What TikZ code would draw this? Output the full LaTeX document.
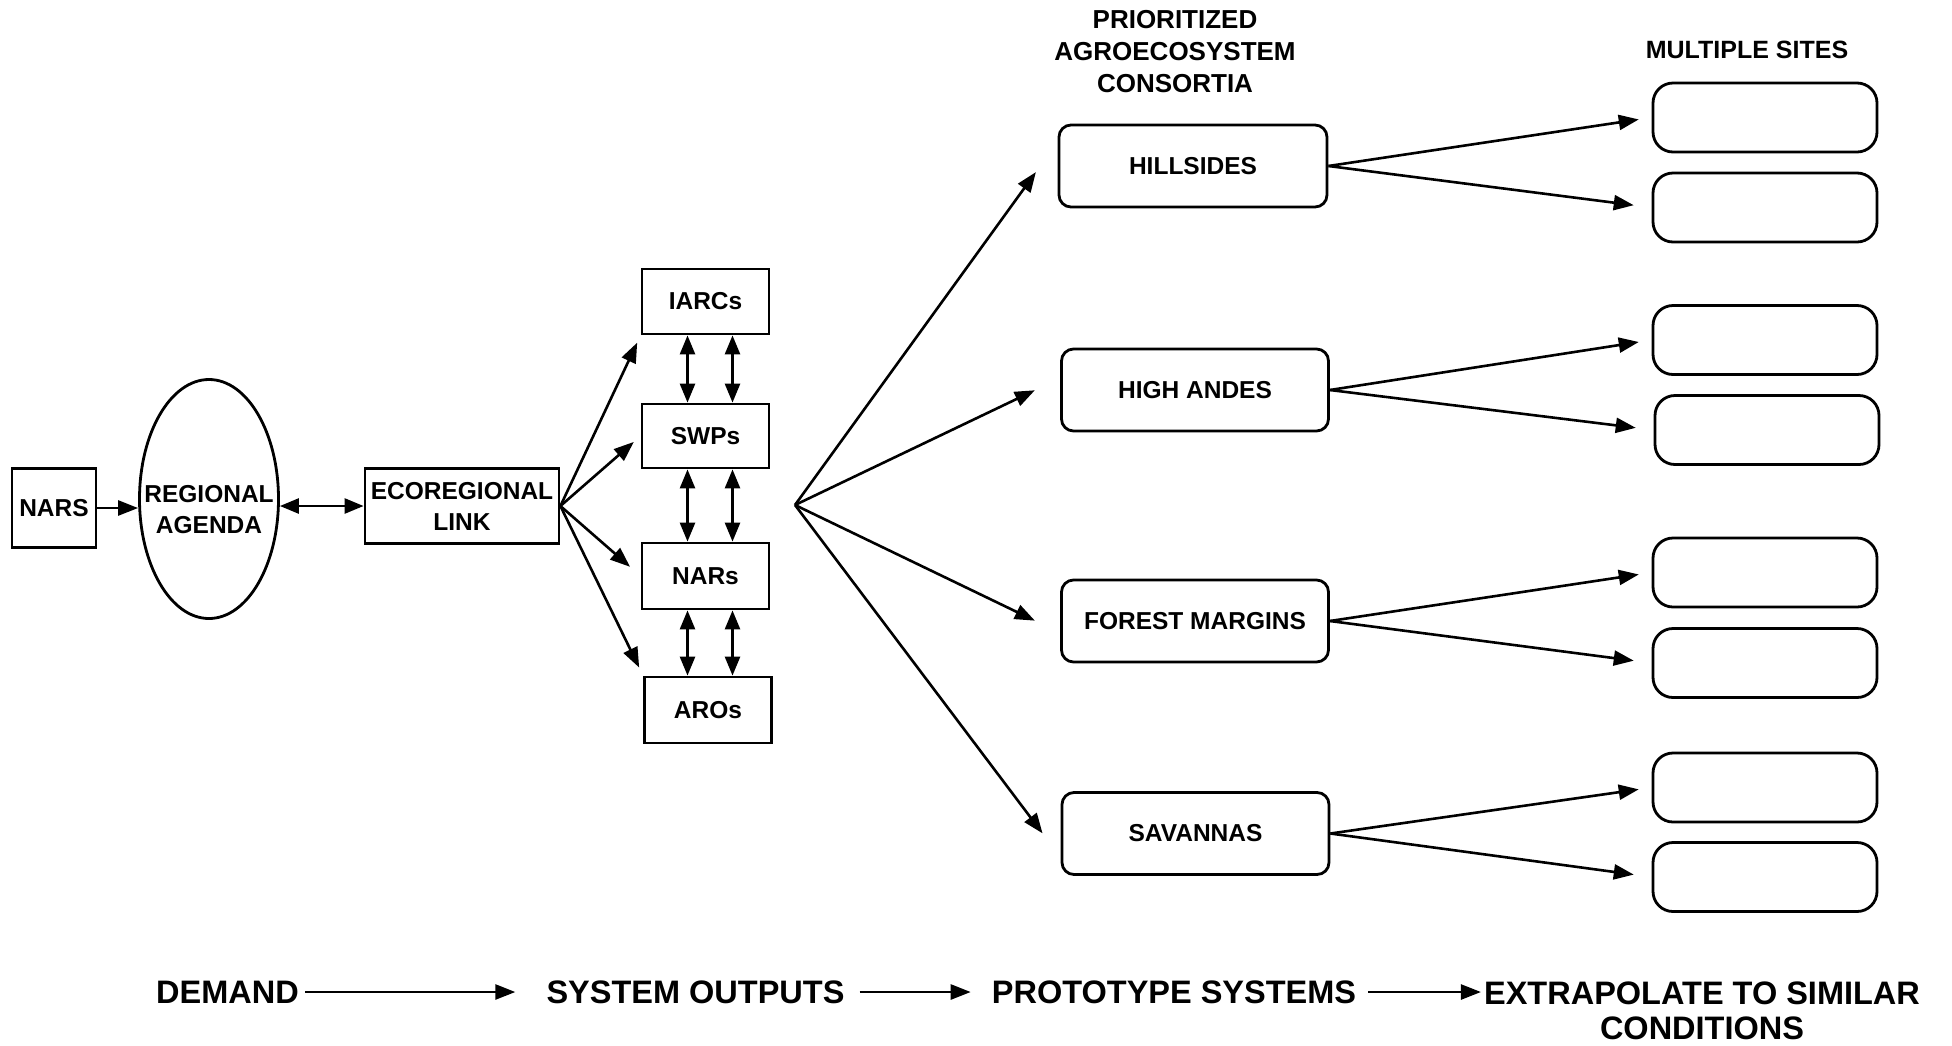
\documentclass[tikz,border=0pt]{standalone}
\usepackage{fontspec}
\setmainfont{Liberation Sans}
\usetikzlibrary{arrows.meta,shapes.geometric,calc}
\begin{document}
\begin{tikzpicture}[x=1pt,y=-1pt,
  lbl/.style={font=\bfseries\fontsize{24.5}{31}\selectfont, align=center},
  sqbox/.style={draw, line width=2.8pt, inner sep=0pt, lbl},
  rbox/.style={draw, line width=2.8pt, rounded corners=12pt, inner sep=0pt,
    minimum width=267pt, minimum height=82pt, lbl},
  site/.style={draw, line width=2.8pt, rounded corners=20pt,
    minimum width=224pt, minimum height=69pt, inner sep=0pt},
  arr/.style={line width=2.6pt, -{Triangle[length=20pt,width=15pt]}},
  darr/.style={line width=2.6pt, {Triangle[length=19pt,width=15pt]}-{Triangle[length=19pt,width=15pt]}},
  big/.style={font=\bfseries\fontsize{32.5}{35}\selectfont, align=center, inner sep=0pt},
  head/.style={font=\bfseries\fontsize{26}{32}\selectfont, align=center, inner sep=0pt}]
\useasboundingbox (0,0) rectangle (1952,1045);

% left part
\node[sqbox, minimum width=84pt, minimum height=79pt] (nars) at (54,508) {NARS};
\node[ellipse, draw, line width=2.8pt, minimum width=139pt, minimum height=239pt, inner sep=0pt,
  label={[lbl, yshift=-11pt]center:REGIONAL\\AGENDA}] (ell) at (209,499) {};
\node[sqbox, minimum width=194pt, minimum height=75pt] (eco) at (462,506) {ECOREGIONAL\\LINK};

\draw[arr] (nars) -- (nars -| ell.west);
\draw[darr] (eco.west -| ell.east) -- (eco.west);

% institutions
\node[sqbox, minimum width=127pt, minimum height=65pt] (iarcs) at (705.5,301.5) {IARCs};
\node[sqbox, minimum width=127pt, minimum height=64pt] (swps) at (705.5,436) {SWPs};
\node[sqbox, minimum width=127pt, minimum height=66pt] (nars2) at (705.5,576) {NARs};
\node[sqbox, minimum width=127pt, minimum height=66pt] (aros) at (708,710) {AROs};

\draw[arr, shorten >=8pt] (eco.east) -- (iarcs.south west);
\draw[arr, shorten >=9pt] (eco.east) -- (swps.west);
\draw[arr, shorten >=14pt] (eco.east) -- (nars2.west);
\draw[arr, shorten >=9pt] (eco.east) -- (aros.north west);

\foreach \a/\b in {iarcs/swps, swps/nars2, nars2/aros}{
  \draw[darr] ([xshift=-18pt]\a.south) -- ([xshift=-18pt]\a.south |- \b.north);
  \draw[darr] ([xshift=27pt]\a.south) -- ([xshift=27pt]\a.south |- \b.north);
}

% consortia
\node[head] (hdr) at (1175,52) {PRIORITIZED\\AGROECOSYSTEM\\CONSORTIA};
\node[rbox, minimum width=268pt] (hill) at (1193,166) {HILLSIDES};
\node[rbox] (andes) at (1195,390) {HIGH ANDES};
\node[rbox] (forest) at (1195,621) {FOREST MARGINS};
\node[rbox] (sav) at (1195.5,833.5) {SAVANNAS};

\coordinate (fan) at (795,505);
\draw[arr, shorten >=37pt] (fan) -- (hill.170);
\draw[arr, shorten >=28pt] (fan) -- (andes.175);
\draw[arr, shorten >=28pt] (fan) -- (forest.185);
\draw[arr, shorten >=30pt] (fan) -- (sav.190);

% multiple sites
\node[head, font=\bfseries\fontsize{25}{31}\selectfont] (ms) at (1747,50) {MULTIPLE SITES};
\node[site] (s1) at (1765,117.5) {};
\node[site] (s2) at (1765,207.5) {};
\node[site] (s3) at (1765,340) {};
\node[site] (s4) at (1767,430) {};
\node[site] (s5) at (1765,572.5) {};
\node[site] (s6) at (1765,663) {};
\node[site] (s7) at (1765,787.5) {};
\node[site] (s8) at (1765,877) {};

\foreach \c/\u/\d in {hill/s1/s2, andes/s3/s4, forest/s5/s6, sav/s7/s8}{
  \draw[arr, shorten >=13pt] (\c.east) -- (\u.west);
  \draw[arr, shorten >=18pt] (\c.east) -- (\d.west);
}

% bottom flow
\node[big] (demand) at (227.5,992) {DEMAND};
\node[big] (sysout) at (695.5,992) {SYSTEM OUTPUTS};
\node[big] (proto) at (1174,992) {PROTOTYPE SYSTEMS};
\node[big, anchor=north] (extrap) at (1702,982) {EXTRAPOLATE TO SIMILAR\\CONDITIONS};

\draw[arr, shorten <=6pt, shorten >=31pt] (demand.east) -- (sysout.west);
\draw[arr, shorten <=15pt, shorten >=21pt] (sysout.east) -- (proto.west);
\draw[arr, shorten <=12pt, shorten >=3pt] (proto.east) -- (proto.east -| extrap.west);
\end{tikzpicture}
\end{document}
